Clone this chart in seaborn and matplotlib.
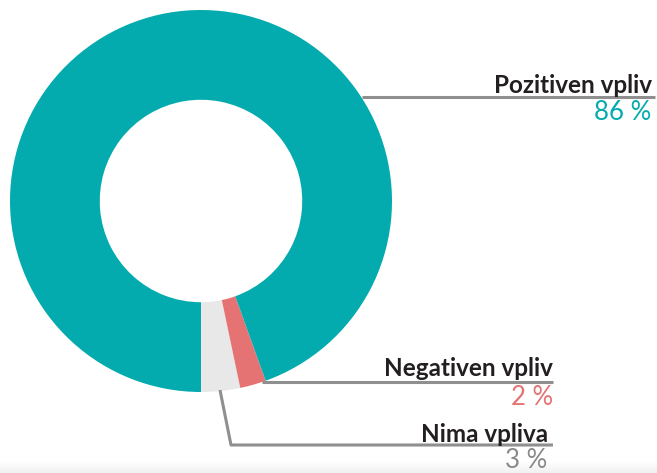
import numpy as np
import matplotlib
matplotlib.use("Agg")
import matplotlib.pyplot as plt
import seaborn as sns
from matplotlib.colors import LinearSegmentedColormap

# ---- data ----
categories = ["Nima vpliva", "Negativen vpliv", "Pozitiven vpliv"]
values = [3, 2, 86]
value_labels = ["3 %", "2 %", "86 %"]
colors = ["#e8e8e8", "#e57373", "#03abae"]
label_colors = ["#8a8a8a", "#e57373", "#03abae"]

sns.set_theme(style="white")
plt.rcParams['font.family'] = ['Lato', 'DejaVu Sans']

W, H = 657, 473
fig = plt.figure(figsize=(W / 100, H / 100), dpi=100)
ax = fig.add_axes([0, 0, 1, 1])

def Y(y):
    return H - y

# faint band at the bottom
grad = np.linspace(0, 1, 20).reshape(-1, 1)
cmap = LinearSegmentedColormap.from_list("g", ["#ffffff", "#f1f1f1"])
ax.imshow(grad, extent=[0, W, Y(473), Y(462)], aspect="auto", cmap=cmap,
          origin="upper", zorder=0)

cx, cy, R = 201, 201, 191
ax.pie(values, colors=colors, startangle=270, counterclock=True,
       radius=R, center=(cx, Y(cy)),
       wedgeprops=dict(width=R * 0.47, linewidth=0), frame=True)

line_kw = dict(color="#8f8f8f", lw=2.2, solid_capstyle="butt", zorder=1)
# leader lines
ax.plot([362, 655], [Y(97.5), Y(97.5)], **line_kw)
ax.plot([262, 553], [Y(381.7), Y(381.7)], **line_kw)
ax.plot([220, 231, 553], [Y(390), Y(445), Y(445)], **line_kw)

lab_kw = dict(ha="right", va="baseline", fontsize=17.5, fontweight="bold",
              color="#231f20")
num_kw = dict(ha="right", va="baseline", fontsize=18.5, fontweight="normal")

# label positions (right edge x, baseline y) for labels and numbers
ax.text(652, Y(93), categories[2], **lab_kw)
ax.text(651, Y(120), value_labels[2], color=label_colors[2], **num_kw)
ax.text(553, Y(376.5), categories[1], **lab_kw)
ax.text(553, Y(405), value_labels[1], color=label_colors[1], **num_kw)
ax.text(548, Y(442), categories[0], **lab_kw)
ax.text(547, Y(468), value_labels[0], color=label_colors[0], **num_kw)

ax.set_xlim(0, W)
ax.set_ylim(0, H)
ax.set_aspect("auto")
ax.axis("off")

fig.savefig("out.png", dpi=100)
